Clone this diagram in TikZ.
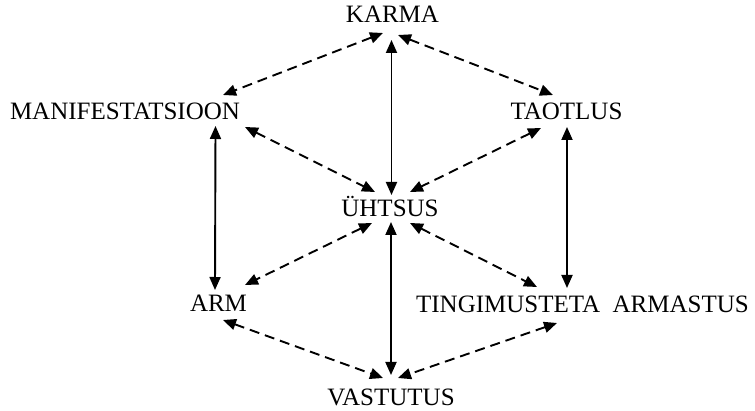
\documentclass[tikz,border=0pt]{standalone}
\usepackage{fontspec}
\setmainfont{Liberation Serif}
\usetikzlibrary{arrows.meta}
\begin{document}
\begin{tikzpicture}[x=1pt,y=-1pt,
  lbl/.style={anchor=base,inner sep=0pt,font=\fontsize{25}{27}\selectfont},
  solidarr/.style={{Triangle[length=13pt,width=11pt]}-{Triangle[length=13pt,width=11pt]},line width=1.9pt},
  dasharr/.style={solidarr,dash pattern=on 10pt off 6pt}]
\useasboundingbox (0,0) rectangle (755,411);
\node[lbl] (karma) at (392.5,23) {KARMA};
\node[lbl] (manif) at (125,120) {MANIFESTATSIOON};
\node[lbl] (taot) at (566.5,120) {TAOTLUS};
\node[lbl] (uht) at (390,217) {ÜHTSUS};
\node[lbl] (arm) at (218.5,312) {ARM};
\node[lbl] (ting) at (582.5,313) {TINGIMUSTETA\ \ ARMASTUS};
\node[lbl] (vast) at (391,406) {VASTUTUS};
% solid
\draw[solidarr] ([shift={(-1,17)}]karma.base) -- ([shift={(1.5,-22)}]uht.base);
\draw[solidarr] ([shift={(1,5)}]uht.base) -- ([shift={(0,-31)}]vast.base);
\draw[solidarr] ([shift={(90.5,6)}]manif.base) -- ([shift={(-3.5,-22)}]arm.base);
\draw[solidarr] ([shift={(0.5,7)}]taot.base) -- ([shift={(-15.5,-25)}]ting.base);
% dashed
\draw[dasharr] ([shift={(-9.5,10)}]karma.base) -- ([shift={(98,-25)}]manif.base);
\draw[dasharr] ([shift={(5.5,12)}]karma.base) -- ([shift={(-13.5,-25)}]taot.base);
\draw[dasharr] ([shift={(120,7)}]manif.base) -- ([shift={(-15,-25)}]uht.base);
\draw[dasharr] ([shift={(-25.5,8)}]taot.base) -- ([shift={(20,-25)}]uht.base);
\draw[dasharr] ([shift={(-18,6)}]uht.base) -- ([shift={(26.5,-27)}]arm.base);
\draw[dasharr] ([shift={(20,6)}]uht.base) -- ([shift={(-45.5,-26)}]ting.base);
\draw[dasharr] ([shift={(4.5,8)}]arm.base) -- ([shift={(-8,-28)}]vast.base);
\draw[dasharr] ([shift={(-25.5,10)}]ting.base) -- ([shift={(7,-28)}]vast.base);
\end{tikzpicture}
\end{document}
